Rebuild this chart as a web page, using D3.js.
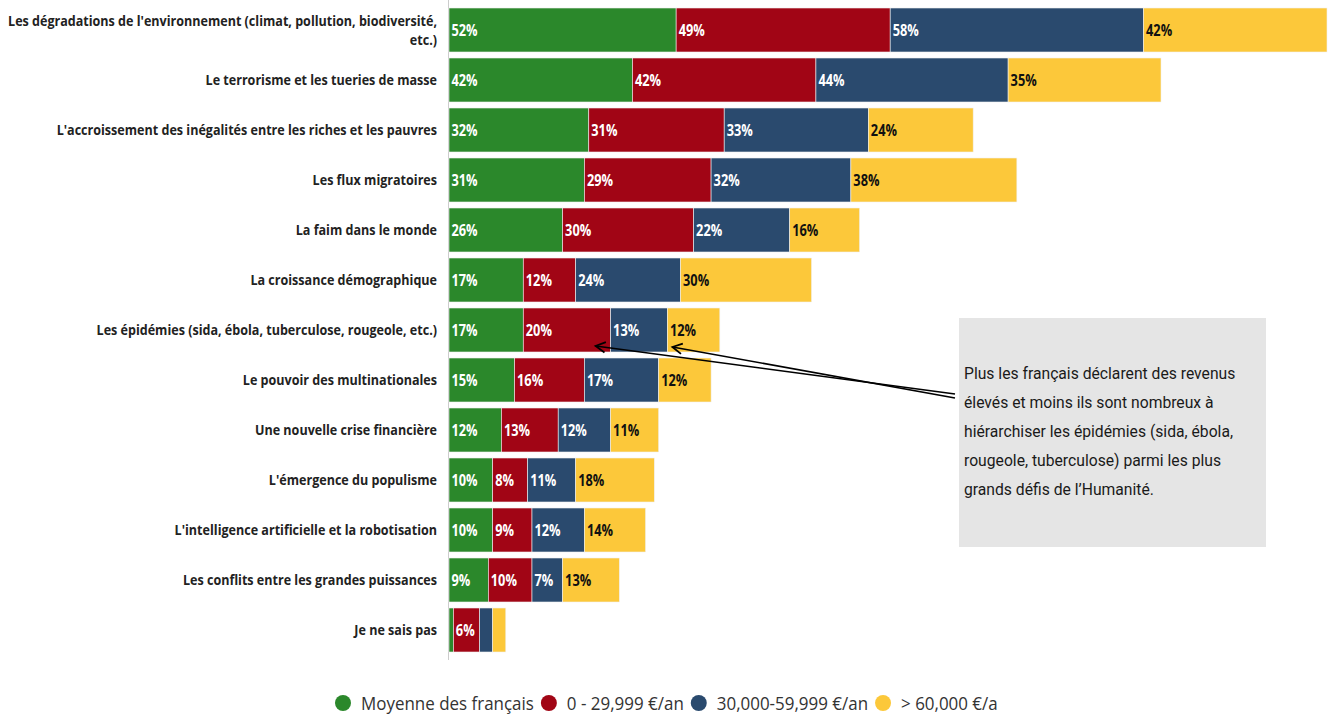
<!DOCTYPE html>
<html>
<head>
<meta charset="utf-8">
<script src="https://cdn.jsdelivr.net/npm/d3@7"></script>
<style>
  html, body { margin: 0; padding: 0; background: #fff; }
  svg { display: block; }
</style>
</head>
<body>
<svg id="chart" width="1330" height="715"></svg>
<script>
const categories = [
  "Les dégradations de l'environnement (climat, pollution, biodiversité, etc.)",
  "Le terrorisme et les tueries de masse",
  "L'accroissement des inégalités entre les riches et les pauvres",
  "Les flux migratoires",
  "La faim dans le monde",
  "La croissance démographique",
  "Les épidémies (sida, ébola, tuberculose, rougeole, etc.)",
  "Le pouvoir des multinationales",
  "Une nouvelle crise financière",
  "L'émergence du populisme",
  "L'intelligence artificielle et la robotisation",
  "Les conflits entre les grandes puissances",
  "Je ne sais pas"
];
const seriesNames = ["Moyenne des français", "0 - 29,999 €/an", "30,000-59,999 €/an", "> 60,000 €/a"];
const moyenne   = [52, 42, 32, 31, 26, 17, 17, 15, 12, 10, 10, 9, 1];
const revenuBas = [49, 42, 31, 29, 30, 12, 20, 16, 13, 8, 9, 10, 6];
const revenuMoy = [58, 44, 33, 32, 22, 24, 13, 17, 12, 11, 12, 7, 3];
const revenuHaut= [42, 35, 24, 38, 16, 30, 12, 12, 11, 18, 14, 13, 3];
const annotationText = [
  "Plus les français déclarent des revenus",
  "élevés et moins ils sont nombreux à",
  "hiérarchiser les épidémies (sida, ébola,",
  "rougeole, tuberculose) parmi les plus",
  "grands défis de l’Humanité."
];

const colors = ["#2b882b", "#a10515", "#2a4a6e", "#fcc83a"];
const labelColors = ["#fff", "#fff", "#fff", "#111"];
const series = [moyenne, revenuBas, revenuMoy, revenuHaut];

const rows = categories.map((c, i) => {
  const o = { cat: c };
  seriesNames.forEach((s, j) => o[s] = series[j][i]);
  return o;
});
const stacked = d3.stack().keys(seriesNames)(rows);

const svg = d3.select("#chart");
const x = d3.scaleLinear().domain([0, 201]).range([449, 1327]);
const y = d3.scaleBand().domain(categories).range([5, 655]).paddingInner(0.12).paddingOuter(0.06);

// axis line
svg.append("line").attr("x1", 448.5).attr("x2", 448.5).attr("y1", 0).attr("y2", 660)
  .attr("stroke", "#cccccc").attr("stroke-width", 1);

// bars
const valScale = 0.8;
const g = svg.append("g");
stacked.forEach((layer, j) => {
  const lg = g.append("g");
  lg.selectAll("rect").data(layer).join("rect")
    .attr("x", d => x(d[0]))
    .attr("y", d => y(d.data.cat))
    .attr("width", d => x(d[1]) - x(d[0]))
    .attr("height", y.bandwidth())
    .attr("fill", colors[j])
    .attr("stroke", "#f0f0f0").attr("stroke-width", 0.6);
  lg.selectAll("text").data(layer.filter(d => d[1] - d[0] >= 5)).join("text")
    .attr("transform", d => `translate(${x(d[0]) + 2.5},${y(d.data.cat) + y.bandwidth() / 2 + 5.5}) scale(${valScale},1)`)
    .attr("fill", labelColors[j])
    .attr("font-family", "Open Sans")
    .attr("font-weight", 700)
    .attr("font-size", 16)
    .text(d => (d[1] - d[0]) + "%");
});

// category labels
const catG = svg.append("g");
const catFont = 15;
const measure = catG.append("text").attr("font-family", "Open Sans").attr("font-weight", 700)
  .attr("font-size", catFont).text("Les dégradations de l'environnement (climat, pollution, biodiversité,");
const condense = 429 / measure.node().getComputedTextLength();
measure.remove();

categories.forEach((c, i) => {
  let lines = [c];
  if (i === 0) lines = ["Les dégradations de l'environnement (climat, pollution, biodiversité,", "etc.)"];
  const cy = y(c) + y.bandwidth() / 2;
  lines.forEach((ln, k) => {
    catG.append("text")
      .attr("transform", `translate(437,${cy + 5 + (k - (lines.length - 1) / 2) * 19}) scale(${condense},1)`)
      .attr("text-anchor", "end")
      .attr("fill", "#222")
      .attr("font-family", "Open Sans")
      .attr("font-weight", 700)
      .attr("font-size", catFont)
      .text(ln);
  });
});

// annotation box
const ann = svg.append("g");
ann.append("rect").attr("x", 959).attr("y", 318).attr("width", 307).attr("height", 229).attr("fill", "#e5e5e5");
annotationText.forEach((ln, k) => {
  ann.append("text").attr("x", 964).attr("y", 379 + k * 29)
    .attr("font-family", "Roboto").attr("font-size", 15.7).attr("fill", "#1a1a1a").text(ln);
});

// arrows
const epi = categories[6];
const yArr = y(epi) + y.bandwidth() / 2 + 16;
const tips = [
  [x(moyenne[6] + revenuBas[6]) - 15, yArr],
  [x(moyenne[6] + revenuBas[6] + revenuMoy[6]) + 5, yArr + 1]
];
const tails = [[955, 394], [955, 398]];
tips.forEach((t, i) => {
  const tl = tails[i];
  svg.append("line").attr("x1", t[0]).attr("y1", t[1]).attr("x2", tl[0]).attr("y2", tl[1])
    .attr("stroke", "#000").attr("stroke-width", 1.6);
  const ang = Math.atan2(tl[1] - t[1], tl[0] - t[0]);
  const L = 11, spread = 0.5;
  const p1 = [t[0] + L * Math.cos(ang - spread), t[1] + L * Math.sin(ang - spread)];
  const p2 = [t[0] + L * Math.cos(ang + spread), t[1] + L * Math.sin(ang + spread)];
  svg.append("path").attr("d", `M${p1[0]},${p1[1]} L${t[0]},${t[1]} L${p2[0]},${p2[1]}`)
    .attr("fill", "none").attr("stroke", "#000").attr("stroke-width", 1.8).attr("stroke-linejoin", "miter");
});

// legend
const leg = svg.append("g");
const legFont = 17.5;
const tmp = leg.append("text").attr("font-family", "Open Sans").attr("font-size", legFont).text(seriesNames[0]);
const legCond = 173 / tmp.node().getComputedTextLength();
tmp.remove();
let lx = 335;
seriesNames.forEach((s, j) => {
  leg.append("circle").attr("cx", lx + 8).attr("cy", 703).attr("r", 8).attr("fill", colors[j]);
  const t = leg.append("text").attr("transform", `translate(${lx + 26},709.5) scale(${legCond},1)`)
    .attr("font-family", "Open Sans").attr("font-size", legFont).attr("fill", "#333").text(s);
  const w = t.node().getComputedTextLength() * legCond;
  lx = lx + 26 + w + 7;
});
</script>
</body>
</html>
